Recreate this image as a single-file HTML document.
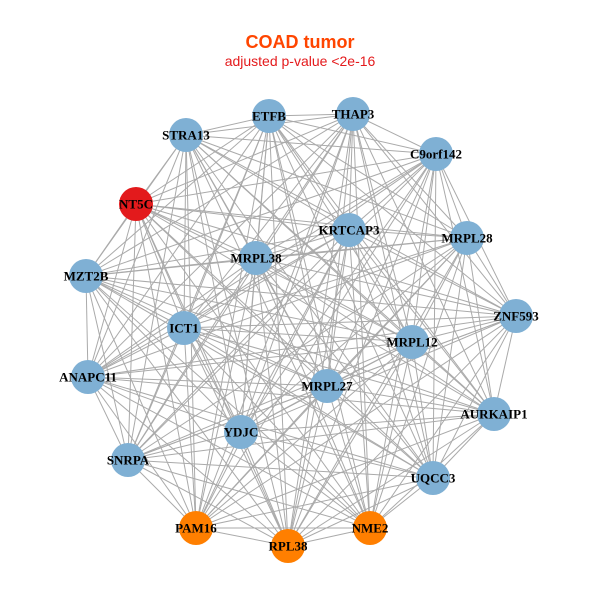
<!DOCTYPE html>
<html><head><meta charset="utf-8"><style>
html,body{margin:0;padding:0;background:#fff;}
svg{display:block}
.l{font-family:"Liberation Serif",serif;font-weight:bold;font-size:13px;fill:#000;text-anchor:middle;dominant-baseline:central}
</style></head><body>
<svg id="s" width="600" height="600" viewBox="0 0 600 600">
<rect width="600" height="600" fill="#fff"/>
<text x="300" y="48" text-anchor="middle" font-family="Liberation Sans,sans-serif" font-weight="bold" font-size="18" fill="#ff4500">COAD tumor</text>
<text x="300" y="66" text-anchor="middle" font-family="Liberation Sans,sans-serif" font-size="14" fill="#e41a1c">adjusted p-value &lt;2e-16</text>
<g id="e" stroke="#aaaaaa" stroke-width="1"></g>
<g id="n"></g>
</svg>
<script>
var N=[["ETFB",269,116,0],["THAP3",353,114,0],["STRA13",186,135,0],["C9orf142",436,154,0],["NT5C",136,204,1],["KRTCAP3",349,230,0],["MRPL28",467,238,0],["MRPL38",256,258,0],["MZT2B",86,276,0],["ICT1",184,328,0],["ZNF593",516,316,0],["MRPL12",412,342,0],["ANAPC11",88,377,0],["MRPL27",327,386,0],["AURKAIP1",494,414,0],["YDJC",241,432,0],["SNRPA",128,460,0],["UQCC3",433,478,0],["PAM16",196,528,2],["RPL38",288,546,2],["NME2",370,528,2]];
var ns="http://www.w3.org/2000/svg",e=document.getElementById("e"),g=document.getElementById("n");
var C=["#7fb0d4","#e31a1c","#ff7f00"];
for(var i=0;i<N.length;i++)for(var j=i+1;j<N.length;j++){var l=document.createElementNS(ns,"line");l.setAttribute("x1",N[i][1]);l.setAttribute("y1",N[i][2]);l.setAttribute("x2",N[j][1]);l.setAttribute("y2",N[j][2]);e.appendChild(l);}
N.forEach(function(d){var c=document.createElementNS(ns,"circle");c.setAttribute("cx",d[1]);c.setAttribute("cy",d[2]);c.setAttribute("r",17);c.setAttribute("fill",C[d[3]]);g.appendChild(c);});
N.forEach(function(d){var t=document.createElementNS(ns,"text");t.setAttribute("x",d[1]);t.setAttribute("y",d[2]);t.setAttribute("class","l");t.textContent=d[0];g.appendChild(t);});
</script>
</body></html>
